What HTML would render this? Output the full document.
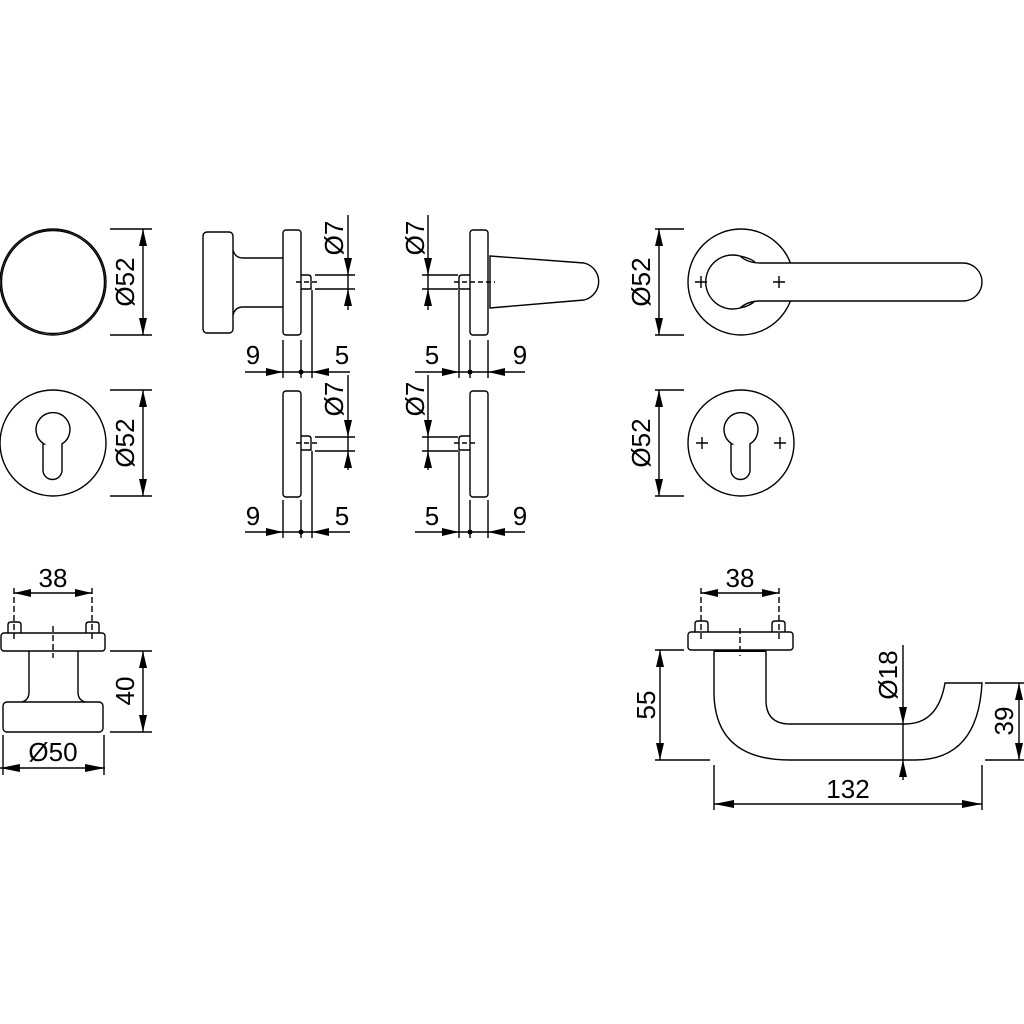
<!DOCTYPE html>
<html><head><meta charset="utf-8"><style>
html,body{margin:0;padding:0;background:#fff;}
svg{display:block;}
text{font-family:"Liberation Sans",Arial,sans-serif;font-size:26px;fill:#000;}
</style></head><body>
<svg width="1024" height="1024" viewBox="0 0 1024 1024" xmlns="http://www.w3.org/2000/svg">
<rect width="1024" height="1024" fill="#fff"/>
<g fill="none" stroke="#000" stroke-width="1.4">
<!-- top-left knob front -->
<circle cx="53" cy="282" r="53"/><circle cx="53" cy="282" r="51.5"/>
<path d="M110 229H152M110 335H152M143 229V335"/>
<!-- escutcheon left -->
<circle cx="53" cy="443" r="53"/>
<path d="M44 444A17 17 0 1 1 62 444V470A9.5 9.5 0 0 1 43 470V444Z"/>
<path d="M110 390H152M110 496H152M143 390V496"/>

<!-- knob side -->
<rect x="203" y="232" width="30" height="101" rx="4"/>
<path d="M233 250Q235 258 243 258H283M233 315Q235 307 243 307H283"/>
<rect x="283" y="230" width="18" height="105" rx="3"/>
<path d="M301 275H308Q311 275 311 278V289H301"/>
<path d="M296 282H318" stroke-dasharray="5 3"/>
<path d="M312 290V378M283 340V378M301 340V378M245 372H350"/>
<path d="M315 275H355M315 289H355M348 215V310"/>
<!-- lever side -->
<rect x="470" y="230" width="18" height="105" rx="3"/>
<path d="M470 275H462Q459 275 459 278V289H470"/>
<path d="M454 282H495" stroke-dasharray="5 3"/>
<path d="M490 256L584 263A19 19 0 0 1 584 300L490 308Z"/>
<path d="M459 290V378M470 340V378M488 340V378M415 372H525"/>
<path d="M422 275H458M422 289H458M428 215V310"/>
<!-- bottom row plates -->
<rect x="283" y="391" width="18" height="106" rx="3"/>
<path d="M301 436H308Q311 436 311 439V450H301"/>
<path d="M296 443H318" stroke-dasharray="5 3"/>
<path d="M312 451V538M283 500V538M301 500V538M245 532H350"/>
<path d="M315 437H355M315 451H355M348 375V470"/>
<rect x="470" y="391" width="18" height="106" rx="3"/>
<path d="M470 436H462Q459 436 459 439V450H470"/>
<path d="M454 443H478" stroke-dasharray="5 3"/>
<path d="M459 451V538M470 500V538M488 500V538M415 532H525"/>
<path d="M422 437H458M422 451H458M428 375V470"/>

<!-- lever front -->
<circle cx="741" cy="282" r="53"/>
<path fill="#fff" d="M740 256A27 27 0 1 0 740 308Q748 301 760 301H963A19 19 0 0 0 963 263H760Q748 263 740 256Z"/>
<path d="M740 256Q750 258 755 262M740 308Q750 306 755 301"/>
<path d="M695 282H707M701 276V288M773 282H785M779 276V288"/>
<path d="M655 229H684M655 335H684M659 229V335"/>
<circle cx="741" cy="443" r="53"/>
<path d="M732 444A17 17 0 1 1 750 444V470A9.5 9.5 0 0 1 731 470V444Z"/>
<path d="M696 443H708M702 437V449M774 443H786M780 437V449"/>
<path d="M655 390H684M655 496H684M659 390V496"/>

<!-- bottom left knob -->
<rect x="1" y="633" width="104" height="18" rx="3"/>
<path d="M8 633V625Q8 622 11 622H18Q21 622 21 625V633M86 633V625Q86 622 89 622H96Q99 622 99 625V633"/>
<path d="M14 588V640M92 588V640M53 626V658" stroke-dasharray="6 3"/>
<path d="M14 593H92"/>
<path d="M29 651V692Q29 700 22 702M78 651V692Q78 700 85 702"/>
<rect x="3" y="702" width="100" height="30" rx="4"/>
<path d="M110 651H152M110 732H152M143 651V732"/>
<path d="M3 735V775M104 735V775M0 768H105"/>

<!-- bottom right lever -->
<rect x="688" y="632" width="105" height="18" rx="3"/>
<path d="M695 632V624Q695 621 698 621H705Q708 621 708 624V632M772 632V624Q772 621 775 621H782Q785 621 785 624V632"/>
<path d="M701 588V640M779 588V640M740 628V656" stroke-dasharray="6 3"/>
<path d="M701 593H779"/>
<path d="M714 651V695Q716 760 790 760H915Q978 760 982 683H945Q938 724 905 724H790Q766 724 766 700V651"/>
<path d="M714 651H766" stroke-width="2"/>
<path d="M655 650H684M655 760H710M660 650V760"/>
<path d="M903 645V780"/>
<path d="M985 683H1024M985 760H1024M1019 683V760"/>
<path d="M714 765V810M982 765V810M714 804H982"/>
</g>
<g fill="#000" stroke="none">
<polygon points="143,229 139,246 147,246"/><polygon points="143,335 139,318 147,318"/>
<polygon points="143,390 139,407 147,407"/><polygon points="143,496 139,479 147,479"/>
<polygon points="659,229 655,246 663,246"/><polygon points="659,335 655,318 663,318"/>
<polygon points="659,390 655,407 663,407"/><polygon points="659,496 655,479 663,479"/>
<polygon points="283,372 266,368 266,376"/><polygon points="312,372 329,368 329,376"/><circle cx="301" cy="372" r="2.5"/>
<polygon points="459,372 442,368 442,376"/><polygon points="488,372 505,368 505,376"/><circle cx="470" cy="372" r="2.5"/>
<polygon points="283,532 266,528 266,536"/><polygon points="312,532 329,528 329,536"/><circle cx="301" cy="532" r="2.5"/>
<polygon points="459,532 442,528 442,536"/><polygon points="488,532 505,528 505,536"/><circle cx="470" cy="532" r="2.5"/>
<polygon points="348,275 344,258 352,258"/><polygon points="348,289 344,306 352,306"/>
<polygon points="428,275 424,258 432,258"/><polygon points="428,289 424,306 432,306"/>
<polygon points="348,437 344,420 352,420"/><polygon points="348,451 344,468 352,468"/>
<polygon points="428,437 424,420 432,420"/><polygon points="428,451 424,468 432,468"/>
<polygon points="14,593 31,589 31,597"/><polygon points="92,593 75,589 75,597"/>
<polygon points="701,593 718,589 718,597"/><polygon points="779,593 762,589 762,597"/>
<polygon points="143,651 139,668 147,668"/><polygon points="143,732 139,715 147,715"/>
<polygon points="0,768 20,764 20,772"/><polygon points="105,768 85,764 85,772"/>
<polygon points="660,650 656,667 664,667"/><polygon points="660,760 656,743 664,743"/>
<polygon points="903,724 899,707 907,707"/><polygon points="903,760 899,777 907,777"/>
<polygon points="1019,683 1015,700 1023,700"/><polygon points="1019,760 1015,743 1023,743"/>
<polygon points="714,804 734,800 734,808"/><polygon points="982,804 962,800 962,808"/>
</g>
<g>
<text transform="translate(134,282) rotate(-90)" text-anchor="middle">Ø52</text>
<text transform="translate(134,443) rotate(-90)" text-anchor="middle">Ø52</text>
<text transform="translate(650,282) rotate(-90)" text-anchor="middle">Ø52</text>
<text transform="translate(650,443) rotate(-90)" text-anchor="middle">Ø52</text>
<text transform="translate(343,238) rotate(-90)" text-anchor="middle">Ø7</text>
<text transform="translate(424,238) rotate(-90)" text-anchor="middle">Ø7</text>
<text transform="translate(343,399) rotate(-90)" text-anchor="middle">Ø7</text>
<text transform="translate(424,399) rotate(-90)" text-anchor="middle">Ø7</text>
<text x="253" y="364" text-anchor="middle">9</text>
<text x="342" y="364" text-anchor="middle">5</text>
<text x="432" y="364" text-anchor="middle">5</text>
<text x="520" y="364" text-anchor="middle">9</text>
<text x="253" y="525" text-anchor="middle">9</text>
<text x="342" y="525" text-anchor="middle">5</text>
<text x="432" y="525" text-anchor="middle">5</text>
<text x="520" y="525" text-anchor="middle">9</text>
<text x="53" y="587" text-anchor="middle">38</text>
<text x="740" y="587" text-anchor="middle">38</text>
<text transform="translate(134,691) rotate(-90)" text-anchor="middle">40</text>
<text x="53" y="761" text-anchor="middle">Ø50</text>
<text transform="translate(655,705) rotate(-90)" text-anchor="middle">55</text>
<text transform="translate(897,675) rotate(-90)" text-anchor="middle">Ø18</text>
<text transform="translate(1013,721) rotate(-90)" text-anchor="middle">39</text>
<text x="848" y="798" text-anchor="middle">132</text>
</g>
</svg>
</body></html>
